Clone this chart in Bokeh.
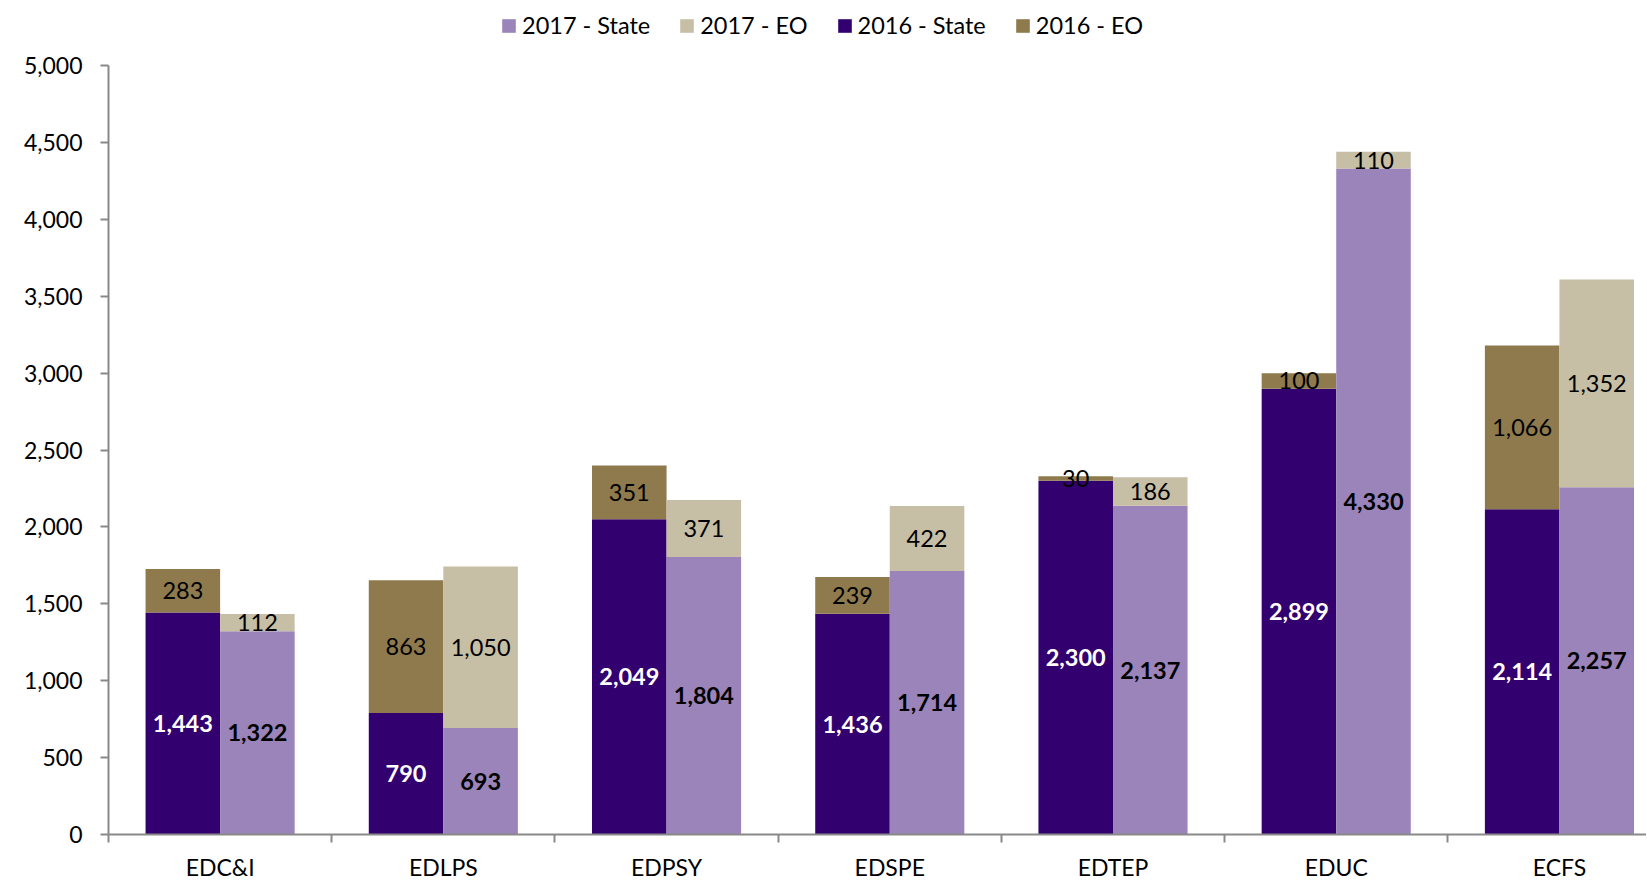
import numpy as np
from bokeh.plotting import figure
from bokeh.models import (ColumnDataSource, Range1d, FixedTicker, NumeralTickFormatter,
                          Legend, LegendItem)
from bokeh.core.properties import value
from bokeh.embed import file_html
from bokeh.resources import INLINE

categories = ["EDC&I", "EDLPS", "EDPSY", "EDSPE", "EDTEP", "EDUC", "ECFS"]
state_2016 = [1443, 790, 2049, 1436, 2300, 2899, 2114]
eo_2016 = [283, 863, 351, 239, 30, 100, 1066]
state_2017 = [1322, 693, 1804, 1714, 2137, 4330, 2257]
eo_2017 = [112, 1050, 371, 422, 186, 110, 1352]
y_ticks = [0, 500, 1000, 1500, 2000, 2500, 3000, 3500, 4000, 4500, 5000]

C_S17 = "#9A84B9"
C_E17 = "#C7BEA6"
C_S16 = "#33006F"
C_E16 = "#8E7A4D"
FONT = "Lato"

idx = np.arange(len(categories))
x16 = idx + 0.333
x17 = idx + 0.667
W = 0.334

s16 = np.array(state_2016, float)
e16 = np.array(eo_2016, float)
s17 = np.array(state_2017, float)
e17 = np.array(eo_2017, float)

def fmt(v):
    return [f"{int(a):,}" for a in v]

src = ColumnDataSource(dict(
    x16=x16, x17=x17,
    s16=s16, e16top=s16 + e16, s17=s17, e17top=s17 + e17,
    zero=np.zeros(len(idx)),
    y_s16=s16 / 2, y_e16=s16 + e16 / 2, y_s17=s17 / 2, y_e17=s17 + e17 / 2,
    t_s16=fmt(s16), t_e16=fmt(e16), t_s17=fmt(s17), t_e17=fmt(e17),
))

Y_MAX = 5000
Y_TOP = Y_MAX * 834 / 769  # frame extends to the page top, axis bounded at 5000

p = figure(width=1646, height=883, output_backend="svg", toolbar_location=None,
           x_range=Range1d(0, 6.890), y_range=Range1d(0, Y_TOP),
           min_border_left=108, min_border_right=0, min_border_top=0,
           min_border_bottom=49)
p.outline_line_color = None
p.grid.visible = False
p.background_fill_color = "white"

r_s16 = p.vbar(x="x16", width=W, bottom="zero", top="s16", source=src,
               fill_color=C_S16, line_color=None)
r_e16 = p.vbar(x="x16", width=W, bottom="s16", top="e16top", source=src,
               fill_color=C_E16, line_color=None)
r_s17 = p.vbar(x="x17", width=W, bottom="zero", top="s17", source=src,
               fill_color=C_S17, line_color=None)
r_e17 = p.vbar(x="x17", width=W, bottom="s17", top="e17top", source=src,
               fill_color=C_E17, line_color=None)

common = dict(source=src, text_align="center", text_baseline="middle",
              text_font=value(FONT), text_font_size="23.5px")
p.text(x="x16", y="y_s16", text="t_s16", text_color="white", text_font_style="bold", **common)
p.text(x="x17", y="y_s17", text="t_s17", text_color="black", text_font_style="bold", **common)
p.text(x="x16", y="y_e16", text="t_e16", text_color="black", **common)
p.text(x="x17", y="y_e17", text="t_e17", text_color="black", **common)

AX = "#898989"
# y axis
ya = p.yaxis[0]
ya.ticker = FixedTicker(ticks=y_ticks)
ya.bounds = (0, Y_MAX)
ya.formatter = NumeralTickFormatter(format="0,0")
ya.axis_line_color = AX
ya.axis_line_width = 2
ya.major_tick_line_color = AX
ya.major_tick_line_width = 2
ya.major_tick_out = 8
ya.major_tick_in = 0
ya.minor_tick_line_color = None
ya.major_label_text_font = FONT
ya.major_label_text_font_size = "23px"
ya.major_label_text_color = "black"
ya.major_label_standoff = 18

# x axis
xa = p.xaxis[0]
centers = list(idx + 0.5)
xa.ticker = FixedTicker(ticks=centers, minor_ticks=list(range(0, len(categories) + 1)))
xa.major_label_overrides = {c: categories[i] for i, c in enumerate(centers)}
xa.axis_line_color = AX
xa.axis_line_width = 2
xa.major_tick_line_color = None
xa.major_tick_out = 0
xa.major_tick_in = 0
xa.minor_tick_line_color = AX
xa.minor_tick_line_width = 2
xa.minor_tick_out = 8
xa.minor_tick_in = 0
xa.major_label_text_font = FONT
xa.major_label_text_font_size = "23px"
xa.major_label_text_color = "black"
xa.major_label_standoff = 10

legend = Legend(items=[
    LegendItem(label="2017 - State", renderers=[r_s17]),
    LegendItem(label="2017 - EO", renderers=[r_e17]),
    LegendItem(label="2016 - State", renderers=[r_s16]),
    LegendItem(label="2016 - EO", renderers=[r_e16]),
], orientation="horizontal", location=(392, 795))
legend.padding = 0
legend.margin = 0
legend.spacing = 28
legend.label_standoff = 5
legend.glyph_width = 17
legend.glyph_height = 17
legend.border_line_color = None
legend.background_fill_alpha = 0
legend.label_text_font = FONT
legend.label_text_font_size = "23.5px"
legend.label_text_color = "black"
legend.label_text_baseline = "middle"
p.add_layout(legend, "center")

open("out.html", "w").write(file_html(p, INLINE))
